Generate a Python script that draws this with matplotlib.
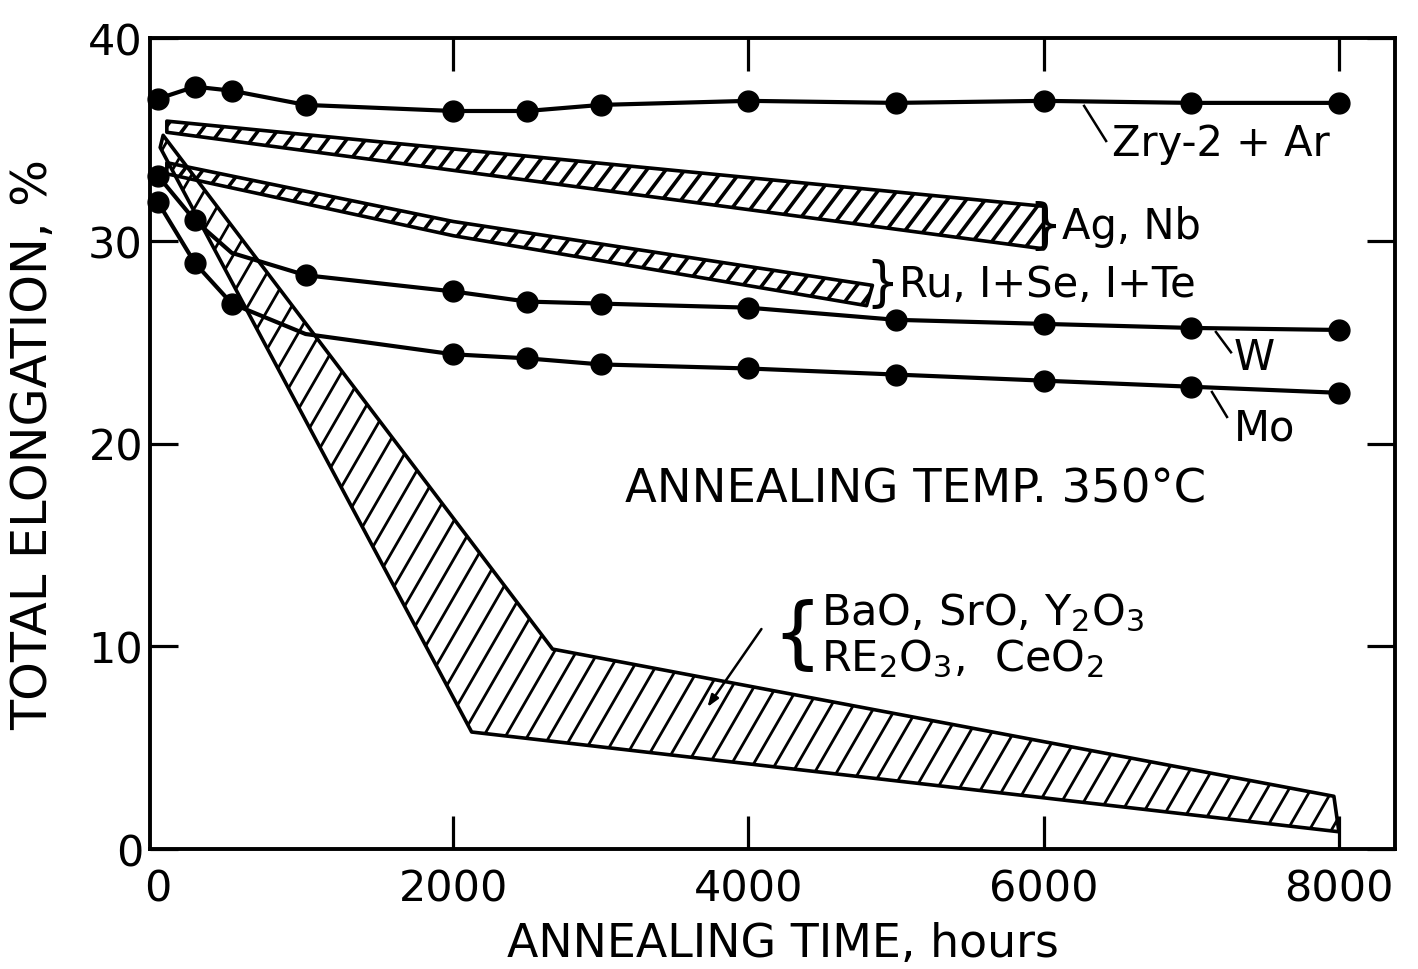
import numpy as np
import matplotlib
matplotlib.use('Agg')
import matplotlib.pyplot as plt
from matplotlib.patches import Polygon
from matplotlib.collections import LineCollection
from matplotlib import ticker

plt.rcParams['font.family'] = ['DejaVu Sans']
plt.rcParams['mathtext.fontset'] = 'dejavusans'

# data (hours, total elongation %)
zry_t = [0, 250, 500, 1000, 2000, 2500, 3000, 4000, 5000, 6000, 7000, 8000]
zry_e = [37.0, 37.6, 37.4, 36.7, 36.4, 36.4, 36.7, 36.9, 36.8, 36.9, 36.8, 36.8]

w_t = [0, 250, 500, 1000, 2000, 2500, 3000, 4000, 5000, 6000, 7000, 8000]
w_e = [33.2, 31.0, 29.4, 28.3, 27.5, 27.0, 26.9, 26.7, 26.1, 25.9, 25.7, 25.6]
w_marks = [0, 1, 3, 4, 5, 6, 7, 8, 9, 10, 11]

mo_t = [0, 250, 500, 1000, 2000, 2500, 3000, 4000, 5000, 6000, 7000, 8000]
mo_e = [31.9, 28.9, 26.9, 25.4, 24.4, 24.2, 23.9, 23.7, 23.4, 23.1, 22.8, 22.5]
mo_marks = [0, 1, 2, 4, 5, 6, 7, 8, 9, 10, 11]

# hatched scatter bands: upper and lower boundaries
agnb_up_t = [60, 6000]
agnb_up_e = [35.9, 31.7]
agnb_lo_t = [60, 6000]
agnb_lo_e = [35.35, 29.6]

ru_up_t = [60, 2000, 4840]
ru_up_e = [33.85, 30.95, 27.8]
ru_lo_t = [60, 2000, 4800]
ru_lo_e = [33.3, 30.25, 26.8]

oxide_up_t = [35, 2673, 7966]
oxide_up_e = [35.2, 9.86, 2.6]
oxide_lo_t = [15, 2125, 8000]
oxide_lo_e = [34.6, 5.77, 0.85]

xticks = [0, 2000, 4000, 6000, 8000]
yticks = [0, 10, 20, 30, 40]

fig = plt.figure(figsize=(14.18, 9.70), dpi=100)
ax = fig.add_axes([150/1418, 1 - 850/970, (1395 - 150)/1418, (850 - 39)/970])
ax.set_xlim(-54, 8380)
ax.set_ylim(0, 40)


def hatch_band(ax, up_t, up_e, lo_t, lo_e, angle, step, lw):
    xs = np.concatenate([up_t, lo_t[::-1]])
    ys = np.concatenate([up_e, lo_e[::-1]])
    poly = Polygon(np.column_stack([xs, ys]), closed=True, fill=False,
                   edgecolor='black', linewidth=2.6, joinstyle='round', zorder=3)
    ax.add_patch(poly)
    # pixel scale so the hatch angle is right on screen
    (x0p, y0p), (x1p, y1p) = ax.transData.transform([(0, 0), (1000, 10)])
    sx = (x1p - x0p) / 1000.0
    sy = (y1p - y0p) / 10.0
    slope = np.tan(np.radians(angle)) * sx / sy
    dx = step / sx
    ymin, ymax = ys.min() - 1, ys.max() + 1
    run = (ymax - ymin) / slope
    starts = np.arange(xs.min() - run, xs.max() + dx, dx)
    segs = [[(c, ymin), (c + run, ymax)] for c in starts]
    lc = LineCollection(segs, colors='black', linewidths=lw, zorder=2)
    ax.add_collection(lc, autolim=False)
    lc.set_clip_path(poly)


hatch_band(ax, agnb_up_t, agnb_up_e, agnb_lo_t, agnb_lo_e, 53, 19, 2.6)
hatch_band(ax, ru_up_t, ru_up_e, ru_lo_t, ru_lo_e, 53, 19, 2.6)
hatch_band(ax, oxide_up_t, oxide_up_e, oxide_lo_t, oxide_lo_e, 60, 22, 2.0)

line_kw = dict(color='black', linewidth=3.0, marker='o', markersize=15,
               zorder=5, clip_on=False)
ax.plot(zry_t, zry_e, **line_kw)
ax.plot(w_t, w_e, markevery=w_marks, **line_kw)
ax.plot(mo_t, mo_e, markevery=mo_marks, **line_kw)

# ticks
ax.xaxis.set_major_locator(ticker.FixedLocator(xticks))
ax.yaxis.set_major_locator(ticker.FixedLocator(yticks))
ax.xaxis.set_major_formatter(ticker.FixedFormatter([str(v) for v in xticks]))
ax.yaxis.set_major_formatter(ticker.FixedFormatter([str(v) for v in yticks]))
ax.tick_params(axis='both', direction='in', top=True, right=True, width=2.3,
               labelsize=31)
ax.tick_params(axis='x', length=24, pad=13)
ax.tick_params(axis='y', length=20, pad=5)
ax.xaxis.get_major_ticks()[0].tick1line.set_visible(False)
ax.xaxis.get_major_ticks()[0].tick2line.set_visible(False)
for s in ax.spines.values():
    s.set_linewidth(2.8)

# axis titles
fig.text(783/1418, 1 - 945/970, 'ANNEALING TIME, hours', fontsize=33,
         ha='center', va='center')
fig.text(33/1418, 1 - 445/970, 'TOTAL ELONGATION, %', fontsize=35.5,
         rotation=90, ha='center', va='center')

# labels
txt = dict(fontsize=30, va='center', ha='left', zorder=6)
ax.text(6464, 34.82, 'Zry-2 + Ar', **txt)
ax.plot([6274, 6423], [36.65, 34.92], color='black', linewidth=1.8)

ax.text(6124, 30.75, '}', fontsize=38, ha='right', va='center')
ax.text(6124, 30.73, 'Ag, Nb', **txt)

ax.text(5022, 27.85, '}', fontsize=38, ha='right', va='center')
ax.text(5022, 27.87, 'Ru, I+Se, I+Te', **txt)

ax.text(7289, 24.27, 'W', **txt)
ax.plot([7167, 7269], [25.5, 24.5], color='black', linewidth=1.8)

ax.text(7289, 20.81, 'Mo', **txt)
ax.plot([7140, 7242], [22.54, 21.31], color='black', linewidth=1.8)

ax.text(3161, 17.76, 'ANNEALING TEMP. 350\u00b0C', fontsize=33.5,
        va='center', ha='left')

ax.text(4494, 10.5, '{', fontsize=56, ha='right', va='center')
ax.text(4494, 11.1, r'BaO, SrO, Y$_\mathregular{2}$O$_\mathregular{3}$',
        fontsize=31, ha='left', va='baseline')
ax.text(4494, 8.8, r'RE$_\mathregular{2}$O$_\mathregular{3}$,  CeO$_\mathregular{2}$',
        fontsize=31, ha='left', va='baseline')
ax.annotate('', xy=(3722, 7.0), xytext=(4088, 10.85),
            arrowprops=dict(arrowstyle='-|>,head_length=0.7,head_width=0.25',
                            color='black', linewidth=1.8, shrinkA=0, shrinkB=0))

fig.savefig('out.png', dpi=100)
